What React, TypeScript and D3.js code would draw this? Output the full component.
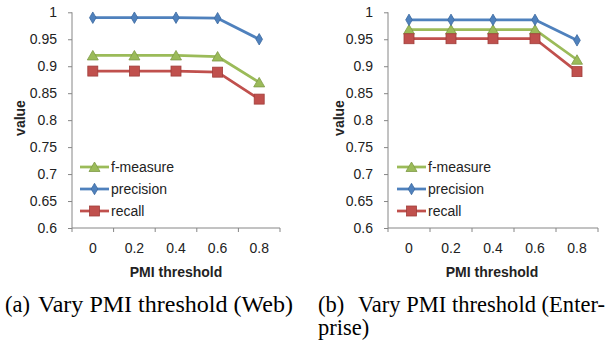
import React, { useEffect, useRef } from 'react';
import * as d3 from 'd3';

const thresholds = ['0', '0.2', '0.4', '0.6', '0.8'];
const yTicks = [0.6, 0.65, 0.7, 0.75, 0.8, 0.85, 0.9, 0.95, 1];

// (a) Web
const webF = [0.92, 0.92, 0.92, 0.918, 0.87];
const webPrecision = [0.99, 0.99, 0.99, 0.989, 0.95];
const webRecall = [0.891, 0.891, 0.891, 0.889, 0.839];

// (b) Enterprise
const entF = [0.968, 0.968, 0.968, 0.968, 0.912];
const entPrecision = [0.986, 0.986, 0.986, 0.986, 0.948];
const entRecall = [0.951, 0.951, 0.951, 0.951, 0.89];

const FONT = '"Liberation Sans", Arial, sans-serif';
const AXIS = '#868686';

function drawPanel(svg, opts) {
  const { x0, x1, labelX, titleX, legendX, series } = opts;
  const g = svg.append('g');

  const x = d3.scaleBand().domain(thresholds).range([x0, x1]).padding(0);
  const y = d3.scaleLinear().domain([0.6, 1]).range([228, 12.3]);

  // y axis
  const yAxis = g.append('g')
    .attr('transform', `translate(${x0},0)`)
    .call(d3.axisLeft(y).tickValues(yTicks).tickSize(4).tickPadding(11).tickFormat(d3.format('~g')));
  yAxis.select('.domain').attr('stroke', AXIS).attr('d', `M0,${y(1)}V${y(0.6)}`);
  yAxis.selectAll('line').attr('stroke', AXIS);
  yAxis.selectAll('text').attr('font-family', FONT).attr('font-size', 14).attr('fill', '#222');

  // x axis
  const xAxis = g.append('g').attr('transform', `translate(0,${y(0.6)})`);
  xAxis.append('line').attr('x1', x0).attr('x2', x1).attr('stroke', AXIS);
  const edges = thresholds.map(t => x(t)).concat([x1]);
  xAxis.selectAll('.tk').data(edges).join('line')
    .attr('x1', d => d).attr('x2', d => d).attr('y1', 0).attr('y2', 4).attr('stroke', AXIS);
  xAxis.selectAll('.lbl').data(thresholds).join('text')
    .attr('x', d => x(d) + x.bandwidth() / 2).attr('y', 25)
    .attr('text-anchor', 'middle').attr('font-family', FONT).attr('font-size', 14).attr('fill', '#222')
    .text(d => d);

  g.append('text').attr('x', titleX).attr('y', 277).attr('text-anchor', 'middle')
    .attr('font-family', FONT).attr('font-size', 14).attr('font-weight', 'bold').attr('fill', '#222')
    .text('PMI threshold');
  g.append('text').attr('transform', `translate(${labelX},118) rotate(-90)`).attr('text-anchor', 'middle')
    .attr('font-family', FONT).attr('font-size', 14).attr('font-weight', 'bold').attr('fill', '#222')
    .text('value');

  const line = d3.line().x((d, i) => x(thresholds[i]) + x.bandwidth() / 2).y(d => y(d));

  const marker = (sel, s, cx, cy) => {
    if (s.shape === 'square') {
      sel.append('rect').attr('x', cx - 5).attr('y', cy - 5).attr('width', 10).attr('height', 10)
        .attr('fill', s.color).attr('stroke', s.dark).attr('stroke-width', 0.8);
    } else if (s.shape === 'diamond') {
      sel.append('path').attr('d', d3.symbol(d3.symbolDiamond, 38)()).attr('transform', `translate(${cx},${cy})`)
        .attr('fill', s.color).attr('stroke', s.dark).attr('stroke-width', 0.8);
    } else {
      sel.append('path').attr('d', `M${cx},${cy - 5}L${cx + 5.5},${cy + 4.5}L${cx - 5.5},${cy + 4.5}Z`)
        .attr('fill', s.color).attr('stroke', s.dark).attr('stroke-width', 0.8);
    }
  };

  series.forEach(s => {
    g.append('path').datum(s.values).attr('d', line).attr('fill', 'none')
      .attr('stroke', s.color).attr('stroke-width', 2.75).attr('stroke-linejoin', 'round');
    s.values.forEach((v, i) => marker(g, s, x(thresholds[i]) + x.bandwidth() / 2, y(v)));
  });

  // legend
  series.forEach((s, i) => {
    const ly = 167 + i * 22;
    g.append('line').attr('x1', legendX).attr('x2', legendX + 29).attr('y1', ly).attr('y2', ly)
      .attr('stroke', s.color).attr('stroke-width', 2.75);
    marker(g, s, legendX + 14.5, ly);
    g.append('text').attr('x', legendX + 31).attr('y', ly + 5).attr('font-family', FONT).attr('font-size', 14)
      .attr('fill', '#222').text(s.name);
  });
}

export default function App() {
  const ref = useRef(null);

  useEffect(() => {
    const svg = d3.select(ref.current);
    svg.selectAll('*').remove();

    const mk = (f, p, r) => [
      { name: 'f-measure', values: f, color: '#9BBB59', dark: '#7f9a48', shape: 'triangle' },
      { name: 'precision', values: p, color: '#4F81BD', dark: '#3c6a9f', shape: 'diamond' },
      { name: 'recall', values: r, color: '#C0504D', dark: '#a03e3b', shape: 'square' },
    ];

    drawPanel(svg, { x0: 72, x1: 280, labelX: 25, titleX: 176, legendX: 80, series: mk(webF, webPrecision, webRecall) });
    drawPanel(svg, { x0: 388, x1: 598, labelX: 344, titleX: 492, legendX: 397, series: mk(entF, entPrecision, entRecall) });

    // sub-captions
    const cap = svg.append('g').attr('font-family', '"Liberation Serif", "Times New Roman", serif')
      .attr('font-size', 22.5).attr('fill', '#000');
    const a = cap.append('text').attr('y', 312);
    a.append('tspan').attr('x', 5).text('(a)');
    a.append('tspan').attr('x', 38).attr('textLength', 255).attr('lengthAdjust', 'spacingAndGlyphs')
      .text('Vary PMI threshold (Web)');
    const b = cap.append('text').attr('y', 312);
    b.append('tspan').attr('x', 318).text('(b)');
    b.append('tspan').attr('x', 358).attr('textLength', 247).attr('lengthAdjust', 'spacing')
      .text('Vary PMI threshold (Enter-');
    cap.append('text').attr('x', 318).attr('y', 335).text('prise)');
  }, []);

  return (
    <svg ref={ref} width={613} height={342}
      style={{ position: 'absolute', left: 0, top: 0, background: '#fff' }} />
  );
}
